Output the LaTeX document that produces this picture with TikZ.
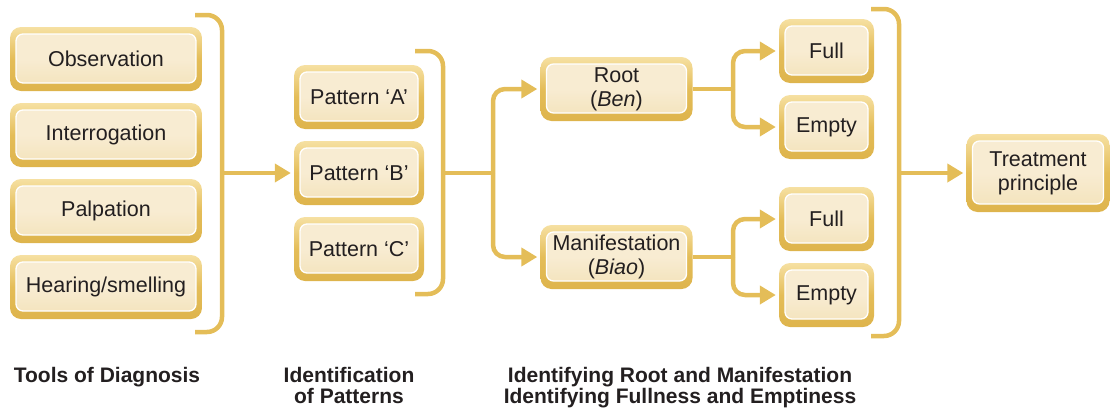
\documentclass[tikz,border=0pt]{standalone}
\usepackage{fontspec}
\setmainfont{Liberation Sans}
\usetikzlibrary{arrows.meta}

\definecolor{gold}{RGB}{228,189,88}
\definecolor{goldlight}{RGB}{246,224,162}
\definecolor{golddark}{RGB}{222,180,76}
\definecolor{cream}{RGB}{248,236,210}
\definecolor{creamdark}{RGB}{243,226,184}
\definecolor{ink}{RGB}{35,31,32}

\tikzset{
  gbox/.style={
    rounded corners=11pt, inner sep=0pt, align=center, text=ink,
    top color=goldlight, bottom color=golddark, middle color=gold,
    font=\fontsize{21.5}{24}\selectfont,
    path picture={
      \shadedraw[rounded corners=7pt, draw=white, line width=1.3pt,
        top color=cream, bottom color=creamdark, middle color=cream]
        ([shift={(6pt,-7pt)}]path picture bounding box.north west) rectangle
        ([shift={(-6pt,8pt)}]path picture bounding box.south east);
    }},
  toolbox/.style={gbox, minimum width=192pt, minimum height=64pt},
  patbox/.style={gbox, minimum width=130pt, minimum height=64pt},
  rootbox/.style={gbox, minimum width=152pt, minimum height=64pt},
  febox/.style={gbox, minimum width=95pt, minimum height=64pt},
  conn/.style={draw=gold, line width=4.5pt, rounded corners=12pt},
  arr/.style={conn, -{Triangle[length=16pt,width=18pt]}, shorten >=3pt},
  bracket/.style={draw=gold, line width=4.5pt, rounded corners=15pt},
  lbl/.style={font=\bfseries\fontsize{21}{21}\selectfont, text=ink, align=center, anchor=base, inner sep=0pt}
}

\begin{document}
\begin{tikzpicture}[x=1pt, y=-1pt]
  \useasboundingbox (0,0) rectangle (1110,407);

  % tools of diagnosis
  \node[toolbox] (obs) at (106,59) {Observation};
  \node[toolbox] (int) at (106,135) {Interrogation};
  \node[toolbox] (pal) at (106,211) {Palpation};
  \node[toolbox] (hea) at (106,287) {Hearing/smelling};

  % patterns
  \node[patbox] (pa) at (359,97) {Pattern ‘A’};
  \node[patbox] (pb) at (359,173) {Pattern ‘B’};
  \node[patbox] (pc) at (359,249) {Pattern ‘C’};

  % root and manifestation
  \node[rootbox] (root) at (616.5,89) {Root\\(\textit{Ben})};
  \node[rootbox] (man) at (616.5,257) {Manifestation\\(\textit{Biao})};

  % fullness and emptiness
  \node[febox] (full1) at (826.5,51) {Full};
  \node[febox] (empty1) at (826.5,127) {Empty};
  \node[febox] (full2) at (826.5,219) {Full};
  \node[febox] (empty2) at (826.5,295) {Empty};

  % treatment
  \node[gbox, minimum width=143pt, minimum height=78pt] (treat) at (1038,173) {Treatment\\principle};

  % brackets
  \draw[bracket] (195,15) -- (222,15) -- (222,332) -- (195,332);
  \draw[bracket] (415,51) -- (443,51) -- (443,294) -- (415,294);
  \draw[bracket] (871,9) -- (899,9) -- (899,336) -- (871,336);

  \coordinate (b1) at (222,173);
  \coordinate (b2) at (443,173);
  \coordinate (j1) at (493,173);
  \coordinate (j2) at (733,89);
  \coordinate (j3) at (733,257);
  \coordinate (b3) at (899,173);

  % connectors
  \draw[arr] (b1) -- (pb.west);
  \draw[conn] (b2) -- (j1);
  \draw[arr] (j1) |- (root.west);
  \draw[arr] (j1) |- (man.west);
  \draw[conn] (root.east) -- (j2);
  \draw[arr] (j2) |- (full1.west);
  \draw[arr] (j2) |- (empty1.west);
  \draw[conn] (man.east) -- (j3);
  \draw[arr] (j3) |- (full2.west);
  \draw[arr] (j3) |- (empty2.west);
  \draw[arr] (b3) -- (treat.west);

  % stage captions (base anchor sits on the last line)
  \node[lbl] (cap1) at (107,382) {Tools of Diagnosis};
  \node[lbl] (cap2) at (349,403) {Identification\\of Patterns};
  \node[lbl] (cap3) at (680,403) {Identifying Root and Manifestation\\Identifying Fullness and Emptiness};
\end{tikzpicture}
\end{document}
